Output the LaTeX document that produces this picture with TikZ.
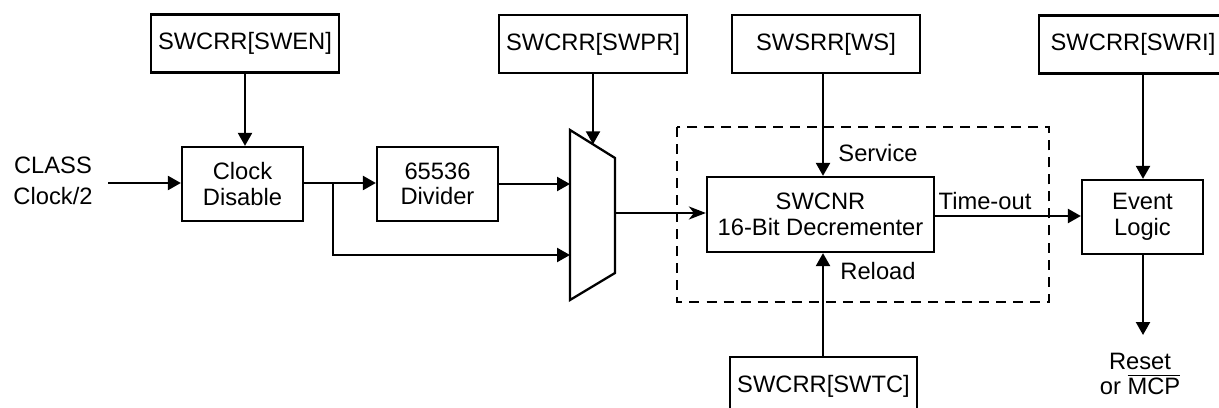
\documentclass[tikz,border=0pt]{standalone}
\usepackage{fontspec}
\setmainfont{Liberation Sans}
\usetikzlibrary{arrows.meta}
\begin{document}
\begin{tikzpicture}[x=0.02cm,y=-0.02cm,
  line width=1.3pt,
  every node/.style={font=\fontsize{13.5}{14.5}\selectfont, align=center, inner sep=0pt},
  regbox/.style={draw, minimum width=3.76cm, minimum height=1.16cm},
  blockbox/.style={draw, minimum width=2.42cm, minimum height=1.48cm},
  arr/.style={-{Triangle[length=0.26cm,width=0.28cm]}},
  sarr/.style={-{Stealth[length=0.34cm,width=0.26cm,inset=0.1cm]}},
  lbl/.style={}
]
\useasboundingbox (0,0) rectangle (1219,408);
\clip (0,0) rectangle (1219,408);

% register boxes
\node[regbox] (swen) at (245,43.5) {SWCRR[SWEN]};
\node[regbox] (swpr) at (593,44) {SWCRR[SWPR]};
\node[regbox] (ws)   at (826,44) {SWSRR[WS]};
\node[regbox] (swri) at (1133,44.5) {SWCRR[SWRI]};
\node[regbox, minimum width=3.74cm] (swtc) at (823.5,386) {SWCRR[SWTC]};

% blocks
\node[blockbox] (clk) at (242.5,184) {Clock\\Disable};
\node[blockbox] (div) at (437.5,184) {65536\\Divider};
\node[blockbox] (ev)  at (1142.5,217) {Event\\Logic};
\node[draw, minimum width=4.54cm, minimum height=1.5cm] (dec) at (820.5,214.5) {SWCNR\\16-Bit Decrementer};

% dashed enclosure
\draw[dashed, dash pattern=on 5.7pt off 4pt] (677,127) rectangle (1049,302);

% multiplexer
\coordinate (mtl) at (570,130);
\coordinate (mtr) at (615,158);
\coordinate (mbr) at (615,273);
\coordinate (mbl) at (570,300);
\draw (mtl) -- (mtr) -- (mbr) -- (mbl) -- cycle;
\coordinate (muxin1) at (570,184);
\coordinate (muxin2) at (570,255);
\coordinate (muxout) at (615,213);
\coordinate (muxsel) at (593,144.3);

% texts
\node (clkin) at (53,181) {CLASS\\[3pt]Clock/2};
\coordinate (inpt) at (108,183);
\node (svc) at (878,153) {Service};
\node (to)  at (985,201) {Time-out};
\node (rl)  at (878,271) {Reload};
\node (rst) at (1140,374) {Reset\\or \raisebox{0pt}{$\overline{\mbox{MCP}}$}};
\coordinate (rstend) at (1143,335);
\coordinate (br) at (333,183);

% connectors
\draw[arr] (inpt) -- (clk.west |- inpt);
\draw[arr] (swen.south) -- (clk.north -| swen.south);
\draw[arr] (clk.east |- br) -- (div.west |- br);
\draw[arr] (br) -- (br |- muxin2) -- (muxin2);
\draw[arr] (div.east |- muxin1) -- (muxin1);
\draw[arr] (swpr.south) -- (muxsel);
\draw[sarr] (muxout) -- (dec.west |- muxout);
\draw[arr] (ws.south -| 823,0) -- (dec.north -| 823,0);
\draw[arr] (swtc.north -| 823,0) -- (dec.south -| 823,0);
\draw[arr] (dec.east |- 0,216) -- (ev.west |- 0,216);
\draw[arr] (swri.south -| 1143,0) -- (ev.north -| 1143,0);
\draw[arr] (ev.south -| rstend) -- (rstend);
\end{tikzpicture}
\end{document}
